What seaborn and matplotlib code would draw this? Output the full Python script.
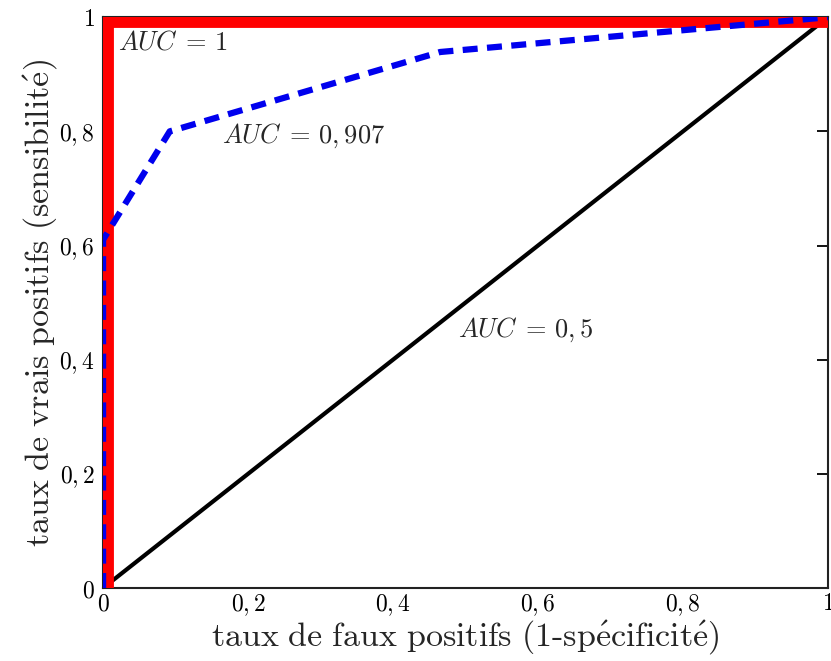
import matplotlib
matplotlib.use("Agg")
import matplotlib.pyplot as plt
import numpy as np
import pandas as pd
import seaborn as sns

# ROC curves
perfect_fpr = [0.0, 0.0, 1.0]
perfect_tpr = [0.0, 1.0, 1.0]

model_fpr = [0.0, 0.0, 0.092, 0.465, 1.0]
model_tpr = [0.0, 0.61, 0.80, 0.939, 1.0]

random_fpr = [0.0, 1.0]
random_tpr = [0.0, 1.0]

tick_values = [0, 0.2, 0.4, 0.6, 0.8, 1]
tick_labels = [r"$0$", r"$0,2$", r"$0,4$", r"$0,6$", r"$0,8$", r"$1$"]

sns.set_style("white")
plt.rcParams["mathtext.fontset"] = "cm"
plt.rcParams["font.family"] = ["DejaVu Serif"]

fig = plt.figure(figsize=(8.31, 6.61), dpi=100)
ax = fig.add_axes([0.124, 0.1104, 0.8724, 0.8636])

df_rand = pd.DataFrame({"fpr": random_fpr, "tpr": random_tpr})
df_perf = pd.DataFrame({"fpr": perfect_fpr, "tpr": perfect_tpr})
df_model = pd.DataFrame({"fpr": model_fpr, "tpr": model_tpr})

sns.lineplot(data=df_rand, x="fpr", y="tpr", sort=False, estimator=None,
             color="black", linewidth=3.0, ax=ax, zorder=2)
sns.lineplot(data=df_perf, x="fpr", y="tpr", sort=False, estimator=None,
             color="#ff0000", linewidth=15, ax=ax, zorder=3)
sns.lineplot(data=df_model, x="fpr", y="tpr", sort=False, estimator=None,
             color="#0000ee", linewidth=4.5, ax=ax, zorder=4)
ax.lines[-1].set_linestyle((0, (2.4, 1.5)))

ax.set_xlim(0, 1)
ax.set_ylim(0, 1)
ax.set_xticks(tick_values)
ax.set_xticklabels(tick_labels, fontsize=17)
ax.set_yticks(tick_values)
ax.set_yticklabels(tick_labels, fontsize=17)
ax.tick_params(axis="both", direction="in", length=8, width=1.3,
               top=False, right=True, colors="black", pad=3)
ax.tick_params(axis="y", pad=6)
for s in ax.spines.values():
    s.set_color("#222222")
    s.set_linewidth(1.5)

ax.set_xlabel(r"$\mathrm{taux\ de\ faux\ positifs\ (1\text{-}sp\acute{e}cificit\acute{e})}$",
              fontsize=24.5, labelpad=0)
ax.set_ylabel(r"$\mathrm{taux\ de\ vrais\ positifs\ (sensibilit\acute{e})}$",
              fontsize=24.5, labelpad=0)

ax.text(0.02, 0.956, r"$AUC\;=\,1$", fontsize=19, va="center", ha="left")
ax.text(0.164, 0.793, r"$AUC\;=\,0,907$", fontsize=19, va="center", ha="left")
ax.text(0.49, 0.452, r"$AUC\;=\,0,5$", fontsize=19, va="center", ha="left")

fig.savefig("out.png", dpi=100)
